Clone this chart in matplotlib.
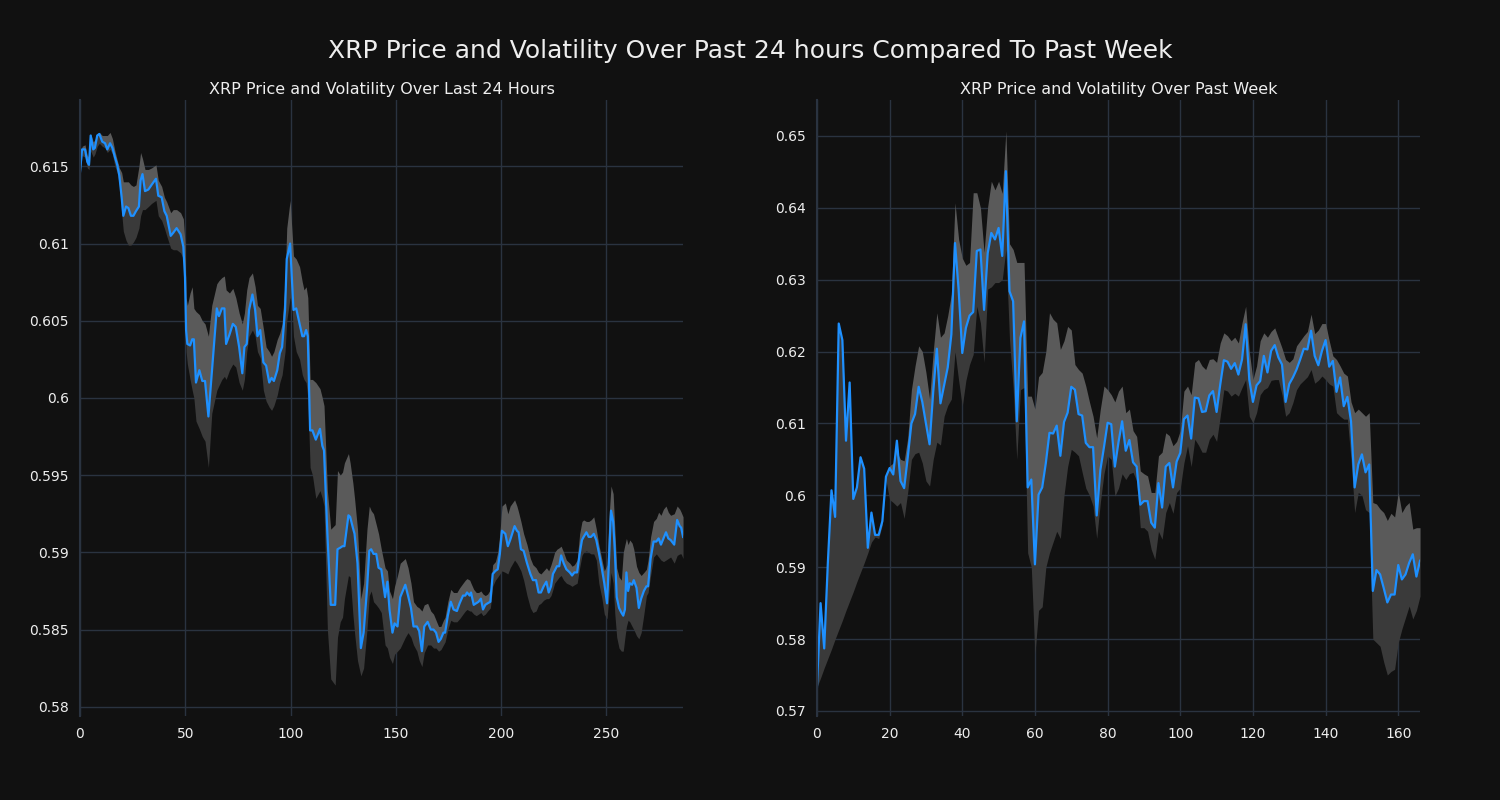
import numpy as np
import matplotlib
matplotlib.use('Agg')
import matplotlib.pyplot as plt
from matplotlib.ticker import FuncFormatter

# ---- last 24 hours (x = 5-min step index) ----
t24 = [0, 1, 2.4, 3.5, 4.3, 5.1, 6.3, 7.1, 8.2, 9.2, 10.6, 11.9, 13.0, 14.3, 15.4, 16.6, 17.7, 18.7, 19.8, 20.6,
       21.9, 23.0, 24.2, 25.4, 26.6, 28.0, 28.8, 29.7, 30.9, 32.5, 34.0, 36.1, 37.2, 38.8, 40.1, 41.2, 43.1, 44.3, 45.9, 47.8,
       49.1, 49.9, 50.4, 51.0, 52.3, 53.3, 54.1, 55.1, 56.7, 58.1, 59.4, 61.0, 62.6, 65.0, 66.0, 67.4, 68.6, 69.4, 71.0, 72.6,
       74.0, 75.6, 77.1, 78.1, 79.2, 80.3, 81.9, 83.2, 84.3, 85.6, 87.1, 88.4, 89.9, 91.0, 92.1, 93.7, 94.9, 96.0, 97.4, 98.2,
       99.8, 100.6, 101.4, 102.7, 104.3, 105.6, 106.4, 107.4, 108.2, 109.3, 110.4, 112.0, 114.0, 115.1, 115.9, 117.5, 119.1, 121.2, 122.3, 123.6,
       124.7, 125.6, 127.5, 128.3, 129.6, 130.4, 131.8, 133.4, 134.7, 136.3, 137.4, 138.3, 139.4, 140.7, 141.8, 143.1, 144.9, 146.0, 147.0, 148.4,
       149.4, 150.8, 152.1, 154.5, 155.8, 157.2, 158.4, 160.0, 161.1, 162.4, 163.5, 165.1, 166.6, 167.9, 169.1, 170.3, 171.4, 172.6, 173.4, 174.7,
       176.1, 177.4, 179.0, 180.3, 181.9, 183.0, 183.8, 185.1, 185.7, 187.0, 188.2, 189.3, 190.4, 191.4, 192.5, 193.6, 194.9, 196.0, 197.3, 198.4,
       199.4, 200.4, 202.0, 203.2, 204.3, 206.4, 207.5, 208.3, 209.4, 210.7, 212.3, 213.9, 215.1, 216.6, 217.8, 218.9, 220.2, 221.5, 222.6, 223.7,
       224.6, 225.4, 226.5, 227.6, 228.5, 229.7, 231.0, 232.6, 233.7, 234.8, 236.1, 237.3, 238.4, 239.2, 240.5, 241.6, 242.7, 244.0, 245.2, 246.4,
       247.9, 249.0, 250.3, 251.1, 252.2, 253.2, 254.0, 254.9, 256.0, 257.1, 258.0, 258.8, 259.5, 260.3, 261.1, 262.2, 263.0, 264.3, 265.4, 266.5,
       267.8, 269.0, 269.8, 271.0, 272.4, 273.7, 274.8, 275.9, 277.1, 278.3, 279.4, 280.5, 282.2, 283.6, 284.8, 285.5, 286.4]
p24 = [0.6146, 0.6161, 0.6161, 0.6153, 0.6151, 0.6170, 0.6161, 0.6162, 0.6170, 0.6171, 0.6166, 0.6165, 0.6161, 0.6165, 0.6162, 0.6156, 0.6151, 0.6144, 0.6130, 0.6118,
       0.6124, 0.6123, 0.6118, 0.6118, 0.6121, 0.6124, 0.6141, 0.6145, 0.6134, 0.6135, 0.6138, 0.6142, 0.6131, 0.6130, 0.6121, 0.6118, 0.6105, 0.6107, 0.6110, 0.6106,
       0.6098, 0.6078, 0.6044, 0.6035, 0.6034, 0.6038, 0.6038, 0.6010, 0.6018, 0.6011, 0.6011, 0.5988, 0.6016, 0.6058, 0.6053, 0.6058, 0.6058, 0.6035, 0.6041, 0.6048,
       0.6046, 0.6033, 0.6016, 0.6033, 0.6035, 0.6057, 0.6067, 0.6057, 0.6040, 0.6044, 0.6023, 0.6021, 0.6010, 0.6013, 0.6011, 0.6018, 0.6029, 0.6033, 0.6057, 0.6090,
       0.6100, 0.6078, 0.6057, 0.6058, 0.6048, 0.6040, 0.6040, 0.6044, 0.6040, 0.5979, 0.5979, 0.5973, 0.5980, 0.5969, 0.5966, 0.5912, 0.5866, 0.5866, 0.5902, 0.5903,
       0.5904, 0.5904, 0.5924, 0.5923, 0.5916, 0.5912, 0.5893, 0.5838, 0.5848, 0.5876, 0.5901, 0.5902, 0.5899, 0.5899, 0.5890, 0.5889, 0.5871, 0.5881, 0.5863, 0.5848,
       0.5854, 0.5852, 0.5871, 0.5879, 0.5872, 0.5864, 0.5852, 0.5852, 0.5849, 0.5836, 0.5852, 0.5855, 0.5850, 0.5850, 0.5848, 0.5842, 0.5844, 0.5848, 0.5848, 0.5859,
       0.5868, 0.5863, 0.5862, 0.5867, 0.5872, 0.5872, 0.5874, 0.5872, 0.5874, 0.5866, 0.5867, 0.5868, 0.5870, 0.5863, 0.5866, 0.5867, 0.5868, 0.5886, 0.5888, 0.5889,
       0.5899, 0.5914, 0.5912, 0.5904, 0.5908, 0.5917, 0.5914, 0.5913, 0.5902, 0.5901, 0.5893, 0.5886, 0.5882, 0.5882, 0.5874, 0.5874, 0.5878, 0.5881, 0.5874, 0.5878,
       0.5886, 0.5888, 0.5891, 0.5891, 0.5898, 0.5893, 0.5889, 0.5887, 0.5885, 0.5887, 0.5887, 0.5899, 0.5908, 0.5910, 0.5913, 0.5910, 0.5910, 0.5912, 0.5908, 0.5900,
       0.5889, 0.5880, 0.5867, 0.5891, 0.5927, 0.5920, 0.5901, 0.5871, 0.5864, 0.5861, 0.5859, 0.5863, 0.5887, 0.5875, 0.5880, 0.5879, 0.5882, 0.5877, 0.5864, 0.5870,
       0.5875, 0.5878, 0.5878, 0.5896, 0.5907, 0.5907, 0.5909, 0.5905, 0.5909, 0.5913, 0.5909, 0.5908, 0.5905, 0.5921, 0.5917, 0.5916, 0.5910]
hi24 = [0.6149, 0.6163, 0.6164, 0.6157, 0.6156, 0.6171, 0.6166, 0.6167, 0.6171, 0.6172, 0.6170, 0.6170, 0.6170, 0.6172, 0.6168, 0.6160, 0.6154, 0.6149, 0.6146, 0.6140,
        0.6140, 0.6140, 0.6138, 0.6137, 0.6138, 0.6150, 0.6159, 0.6155, 0.6148, 0.6148, 0.6149, 0.6151, 0.6141, 0.6137, 0.6130, 0.6127, 0.6120, 0.6122, 0.6122, 0.6120,
        0.6116, 0.6100, 0.6065, 0.6060, 0.6068, 0.6072, 0.6058, 0.6056, 0.6054, 0.6050, 0.6048, 0.6040, 0.6060, 0.6074, 0.6076, 0.6078, 0.6079, 0.6070, 0.6068, 0.6071,
        0.6065, 0.6055, 0.6048, 0.6055, 0.6070, 0.6078, 0.6081, 0.6072, 0.6060, 0.6058, 0.6045, 0.6033, 0.6030, 0.6027, 0.6030, 0.6038, 0.6042, 0.6048, 0.6075, 0.6110,
        0.6128, 0.6110, 0.6092, 0.6090, 0.6085, 0.6075, 0.6070, 0.6072, 0.6065, 0.6012, 0.6012, 0.6010, 0.6006, 0.6000, 0.5995, 0.5940, 0.5915, 0.5918, 0.5953, 0.5950,
        0.5952, 0.5958, 0.5964, 0.5958, 0.5945, 0.5935, 0.5915, 0.5870, 0.5880, 0.5915, 0.5930, 0.5927, 0.5925, 0.5918, 0.5912, 0.5902, 0.5890, 0.5888, 0.5875, 0.5870,
        0.5878, 0.5885, 0.5893, 0.5896, 0.5890, 0.5880, 0.5868, 0.5865, 0.5864, 0.5862, 0.5866, 0.5867, 0.5862, 0.5860, 0.5856, 0.5852, 0.5852, 0.5856, 0.5858, 0.5868,
        0.5876, 0.5874, 0.5874, 0.5877, 0.5880, 0.5882, 0.5883, 0.5882, 0.5880, 0.5876, 0.5874, 0.5874, 0.5875, 0.5873, 0.5872, 0.5873, 0.5876, 0.5892, 0.5894, 0.5900,
        0.5912, 0.5930, 0.5932, 0.5925, 0.5930, 0.5934, 0.5930, 0.5926, 0.5920, 0.5912, 0.5905, 0.5896, 0.5892, 0.5890, 0.5887, 0.5886, 0.5888, 0.5890, 0.5888, 0.5892,
        0.5896, 0.5900, 0.5902, 0.5903, 0.5904, 0.5900, 0.5895, 0.5893, 0.5891, 0.5892, 0.5895, 0.5912, 0.5920, 0.5921, 0.5920, 0.5920, 0.5921, 0.5923, 0.5915, 0.5905,
        0.5895, 0.5888, 0.5892, 0.5920, 0.5943, 0.5938, 0.5915, 0.5890, 0.5884, 0.5882, 0.5900, 0.5905, 0.5909, 0.5905, 0.5908, 0.5906, 0.5902, 0.5891, 0.5887, 0.5885,
        0.5887, 0.5889, 0.5895, 0.5910, 0.5920, 0.5922, 0.5926, 0.5924, 0.5928, 0.5930, 0.5926, 0.5924, 0.5925, 0.5930, 0.5928, 0.5926, 0.5923]
lo24 = [0.6143, 0.6157, 0.6156, 0.6149, 0.6148, 0.6160, 0.6156, 0.6158, 0.6163, 0.6165, 0.6163, 0.6162, 0.6159, 0.6161, 0.6158, 0.6150, 0.6146, 0.6138, 0.6120, 0.6108,
        0.6102, 0.6099, 0.6099, 0.6101, 0.6104, 0.6110, 0.6118, 0.6122, 0.6122, 0.6124, 0.6126, 0.6128, 0.6118, 0.6115, 0.6110, 0.6105, 0.6097, 0.6096, 0.6096, 0.6094,
        0.6090, 0.6060, 0.6030, 0.6022, 0.6012, 0.6005, 0.6000, 0.5985, 0.5980, 0.5975, 0.5972, 0.5955, 0.5990, 0.6005, 0.6008, 0.6012, 0.6014, 0.6012, 0.6018, 0.6022,
        0.6020, 0.6010, 0.6005, 0.6012, 0.6030, 0.6040, 0.6044, 0.6040, 0.6030, 0.6026, 0.6005, 0.5998, 0.5994, 0.5992, 0.5995, 0.6002, 0.6010, 0.6015, 0.6030, 0.6050,
        0.6065, 0.6062, 0.6040, 0.6030, 0.6025, 0.6015, 0.6012, 0.6010, 0.6000, 0.5955, 0.5950, 0.5935, 0.5940, 0.5935, 0.5930, 0.5850, 0.5818, 0.5814, 0.5845, 0.5855,
        0.5858, 0.5870, 0.5885, 0.5884, 0.5860, 0.5848, 0.5830, 0.5820, 0.5825, 0.5850, 0.5872, 0.5875, 0.5868, 0.5866, 0.5864, 0.5861, 0.5840, 0.5838, 0.5832, 0.5828,
        0.5834, 0.5836, 0.5838, 0.5845, 0.5848, 0.5845, 0.5840, 0.5836, 0.5830, 0.5826, 0.5835, 0.5840, 0.5840, 0.5838, 0.5838, 0.5836, 0.5837, 0.5840, 0.5842, 0.5850,
        0.5856, 0.5855, 0.5855, 0.5857, 0.5860, 0.5862, 0.5863, 0.5862, 0.5862, 0.5860, 0.5859, 0.5860, 0.5861, 0.5859, 0.5860, 0.5862, 0.5864, 0.5878, 0.5882, 0.5884,
        0.5886, 0.5888, 0.5887, 0.5886, 0.5890, 0.5895, 0.5893, 0.5891, 0.5888, 0.5882, 0.5872, 0.5864, 0.5861, 0.5862, 0.5866, 0.5867, 0.5869, 0.5870, 0.5870, 0.5872,
        0.5876, 0.5880, 0.5882, 0.5884, 0.5885, 0.5882, 0.5880, 0.5879, 0.5878, 0.5879, 0.5880, 0.5890, 0.5898, 0.5900, 0.5901, 0.5900, 0.5899, 0.5899, 0.5895, 0.5880,
        0.5870, 0.5860, 0.5857, 0.5870, 0.5887, 0.5880, 0.5860, 0.5845, 0.5838, 0.5836, 0.5836, 0.5845, 0.5852, 0.5856, 0.5855, 0.5852, 0.5850, 0.5846, 0.5844, 0.5848,
        0.5860, 0.5872, 0.5874, 0.5885, 0.5897, 0.5899, 0.5897, 0.5895, 0.5894, 0.5895, 0.5896, 0.5897, 0.5893, 0.5898, 0.5899, 0.5899, 0.5896]

# ---- past week (x = hourly step index) ----
pw = [0.5733, 0.5850, 0.5787, 0.5906, 0.6007, 0.5970, 0.6239, 0.6216, 0.6076, 0.6157,
      0.5995, 0.6011, 0.6053, 0.6037, 0.5927, 0.5976, 0.5945, 0.5945, 0.5964, 0.6026,
      0.6038, 0.6029, 0.6076, 0.6020, 0.6010, 0.6053, 0.6100, 0.6113, 0.6151, 0.6130,
      0.6100, 0.6071, 0.6144, 0.6204, 0.6128, 0.6153, 0.6178, 0.6224, 0.6351, 0.6286,
      0.6198, 0.6233, 0.6250, 0.6255, 0.6340, 0.6342, 0.6258, 0.6337, 0.6365, 0.6356,
      0.6372, 0.6333, 0.6451, 0.6284, 0.6270, 0.6103, 0.6219, 0.6242, 0.6011, 0.6022,
      0.5904, 0.6001, 0.6011, 0.6045, 0.6087, 0.6086, 0.6097, 0.6055, 0.6102, 0.6115,
      0.6151, 0.6147, 0.6113, 0.6111, 0.6073, 0.6067, 0.6067, 0.5972, 0.6035, 0.6067,
      0.6101, 0.6099, 0.6040, 0.6074, 0.6103, 0.6062, 0.6077, 0.6046, 0.6040, 0.5987,
      0.5992, 0.5992, 0.5962, 0.5955, 0.6017, 0.5983, 0.6040, 0.6045, 0.6011, 0.6047,
      0.6059, 0.6106, 0.6111, 0.6079, 0.6136, 0.6135, 0.6116, 0.6117, 0.6139, 0.6145,
      0.6116, 0.6154, 0.6188, 0.6186, 0.6176, 0.6184, 0.6168, 0.6189, 0.6238, 0.6161,
      0.6130, 0.6153, 0.6159, 0.6194, 0.6171, 0.6201, 0.6209, 0.6192, 0.6182, 0.6130,
      0.6155, 0.6164, 0.6175, 0.6189, 0.6204, 0.6203, 0.6229, 0.6194, 0.6181, 0.6201,
      0.6216, 0.6179, 0.6187, 0.6144, 0.6164, 0.6124, 0.6137, 0.6103, 0.6011, 0.6043,
      0.6057, 0.6032, 0.6043, 0.5867, 0.5896, 0.5890, 0.5871, 0.5851, 0.5862, 0.5862,
      0.5903, 0.5883, 0.5890, 0.5906, 0.5918, 0.5887, 0.5909]
hiw = [0.5733, 0.5850, 0.5787, 0.5906, 0.6007, 0.5970, 0.6239, 0.6216, 0.6076, 0.6157,
       0.5995, 0.6011, 0.6053, 0.6037, 0.5927, 0.5976, 0.5945, 0.5948, 0.5967, 0.6029,
       0.6041, 0.6045, 0.6060, 0.6050, 0.6048, 0.6080, 0.6147, 0.6180, 0.6208, 0.6200,
       0.6171, 0.6134, 0.6200, 0.6254, 0.6220, 0.6226, 0.6250, 0.6280, 0.6407, 0.6356,
       0.6330, 0.6320, 0.6324, 0.6421, 0.6421, 0.6400, 0.6338, 0.6402, 0.6437, 0.6425,
       0.6437, 0.6420, 0.6507, 0.6350, 0.6342, 0.6324, 0.6324, 0.6324, 0.6138, 0.6138,
       0.6120, 0.6165, 0.6171, 0.6200, 0.6254, 0.6245, 0.6240, 0.6203, 0.6215, 0.6235,
       0.6230, 0.6182, 0.6175, 0.6170, 0.6152, 0.6130, 0.6110, 0.6080, 0.6120, 0.6152,
       0.6147, 0.6140, 0.6130, 0.6145, 0.6152, 0.6115, 0.6120, 0.6090, 0.6082, 0.6034,
       0.6030, 0.6027, 0.6004, 0.6004, 0.6055, 0.6060, 0.6087, 0.6083, 0.6069, 0.6075,
       0.6090, 0.6145, 0.6152, 0.6140, 0.6185, 0.6189, 0.6180, 0.6175, 0.6189, 0.6190,
       0.6185, 0.6212, 0.6226, 0.6222, 0.6215, 0.6220, 0.6212, 0.6240, 0.6263, 0.6200,
       0.6161, 0.6180, 0.6215, 0.6226, 0.6220, 0.6228, 0.6233, 0.6219, 0.6205, 0.6189,
       0.6185, 0.6190, 0.6208, 0.6215, 0.6222, 0.6228, 0.6252, 0.6225, 0.6230, 0.6239,
       0.6239, 0.6215, 0.6194, 0.6189, 0.6180, 0.6170, 0.6166, 0.6130, 0.6115, 0.6120,
       0.6115, 0.6110, 0.6115, 0.5990, 0.5988, 0.5981, 0.5976, 0.5965, 0.5975, 0.5970,
       0.6004, 0.5976, 0.5985, 0.5990, 0.5953, 0.5955, 0.5955]
low = [0.5733, 0.5746, 0.5760, 0.5773, 0.5786, 0.5800, 0.5813, 0.5826, 0.5840, 0.5853,
       0.5866, 0.5880, 0.5893, 0.5906, 0.5920, 0.5935, 0.5942, 0.5940, 0.5959, 0.6021,
       0.5994, 0.5990, 0.5985, 0.5990, 0.5968, 0.6005, 0.6050, 0.6058, 0.6060, 0.6045,
       0.6020, 0.6013, 0.6050, 0.6074, 0.6070, 0.6110, 0.6125, 0.6134, 0.6200, 0.6160,
       0.6124, 0.6160, 0.6182, 0.6196, 0.6263, 0.6240, 0.6185, 0.6287, 0.6290, 0.6296,
       0.6296, 0.6300, 0.6342, 0.6217, 0.6150, 0.6050, 0.6147, 0.6150, 0.5920, 0.5900,
       0.5779, 0.5840, 0.5845, 0.5900, 0.5920, 0.5935, 0.5950, 0.5940, 0.6000, 0.6040,
       0.6064, 0.6060, 0.6055, 0.6032, 0.6010, 0.6000, 0.5985, 0.5940, 0.5990, 0.6030,
       0.6055, 0.6050, 0.5999, 0.6010, 0.6030, 0.6022, 0.6030, 0.6032, 0.6020, 0.5955,
       0.5955, 0.5950, 0.5925, 0.5911, 0.5950, 0.5939, 0.5976, 0.5990, 0.5975, 0.6004,
       0.6010, 0.6045, 0.6069, 0.6040, 0.6078, 0.6070, 0.6060, 0.6060, 0.6078, 0.6085,
       0.6075, 0.6110, 0.6147, 0.6145, 0.6138, 0.6142, 0.6138, 0.6150, 0.6161, 0.6110,
       0.6101, 0.6115, 0.6140, 0.6147, 0.6150, 0.6160, 0.6161, 0.6161, 0.6140, 0.6110,
       0.6115, 0.6129, 0.6147, 0.6155, 0.6160, 0.6165, 0.6175, 0.6156, 0.6160, 0.6166,
       0.6161, 0.6155, 0.6152, 0.6115, 0.6110, 0.6106, 0.6106, 0.6050, 0.5976, 0.6004,
       0.6000, 0.5980, 0.5976, 0.5800, 0.5795, 0.5790, 0.5768, 0.5750, 0.5755, 0.5758,
       0.5795, 0.5814, 0.5830, 0.5846, 0.5828, 0.5840, 0.5860]

BG = '#111111'
GRID = '#2a3340'
TXT = '#eeeeee'
LINE = '#1e90ff'


def panel(ax, x, price, hi, lo, title, ylim):
    x = np.asarray(x)
    price, hi, lo = map(np.asarray, (price, hi, lo))
    ax.set_facecolor(BG)
    ax.fill_between(x, lo, price, color='#3a3a3a', lw=0)
    ax.fill_between(x, price, hi, color='#5a5a5a', lw=0)
    ax.plot(x, price, color=LINE, lw=1.6)
    ax.set_xlim(x[0], x[-1])
    ax.set_ylim(*ylim)
    ax.grid(color=GRID, lw=1)
    ax.set_axisbelow(True)
    for s in ('top', 'right', 'bottom'):
        ax.spines[s].set_visible(False)
    ax.spines['left'].set_color(GRID)
    ax.spines['left'].set_linewidth(1.5)
    ax.tick_params(colors=TXT, length=0, labelsize=10, pad=8)
    ax.yaxis.set_major_formatter(FuncFormatter(lambda v, _: f'{v:g}'))
    ax.set_title(title, color=TXT, fontsize=11.5, pad=4)


fig, axes = plt.subplots(1, 2, figsize=(15, 8), dpi=100)
fig.patch.set_facecolor(BG)
panel(axes[0], t24, p24, hi24, lo24, 'XRP Price and Volatility Over Last 24 Hours', (0.5794, 0.6193))
panel(axes[1], np.arange(len(pw)), pw, hiw, low, 'XRP Price and Volatility Over Past Week', (0.5693, 0.6550))
fig.suptitle('XRP Price and Volatility Over Past 24 hours Compared To Past Week',
             color=TXT, fontsize=18, y=0.951)
plt.subplots_adjust(left=0.0533, right=0.9467, bottom=0.105, top=0.875, wspace=0.222)
plt.savefig('out.png', dpi=100, facecolor=BG)
